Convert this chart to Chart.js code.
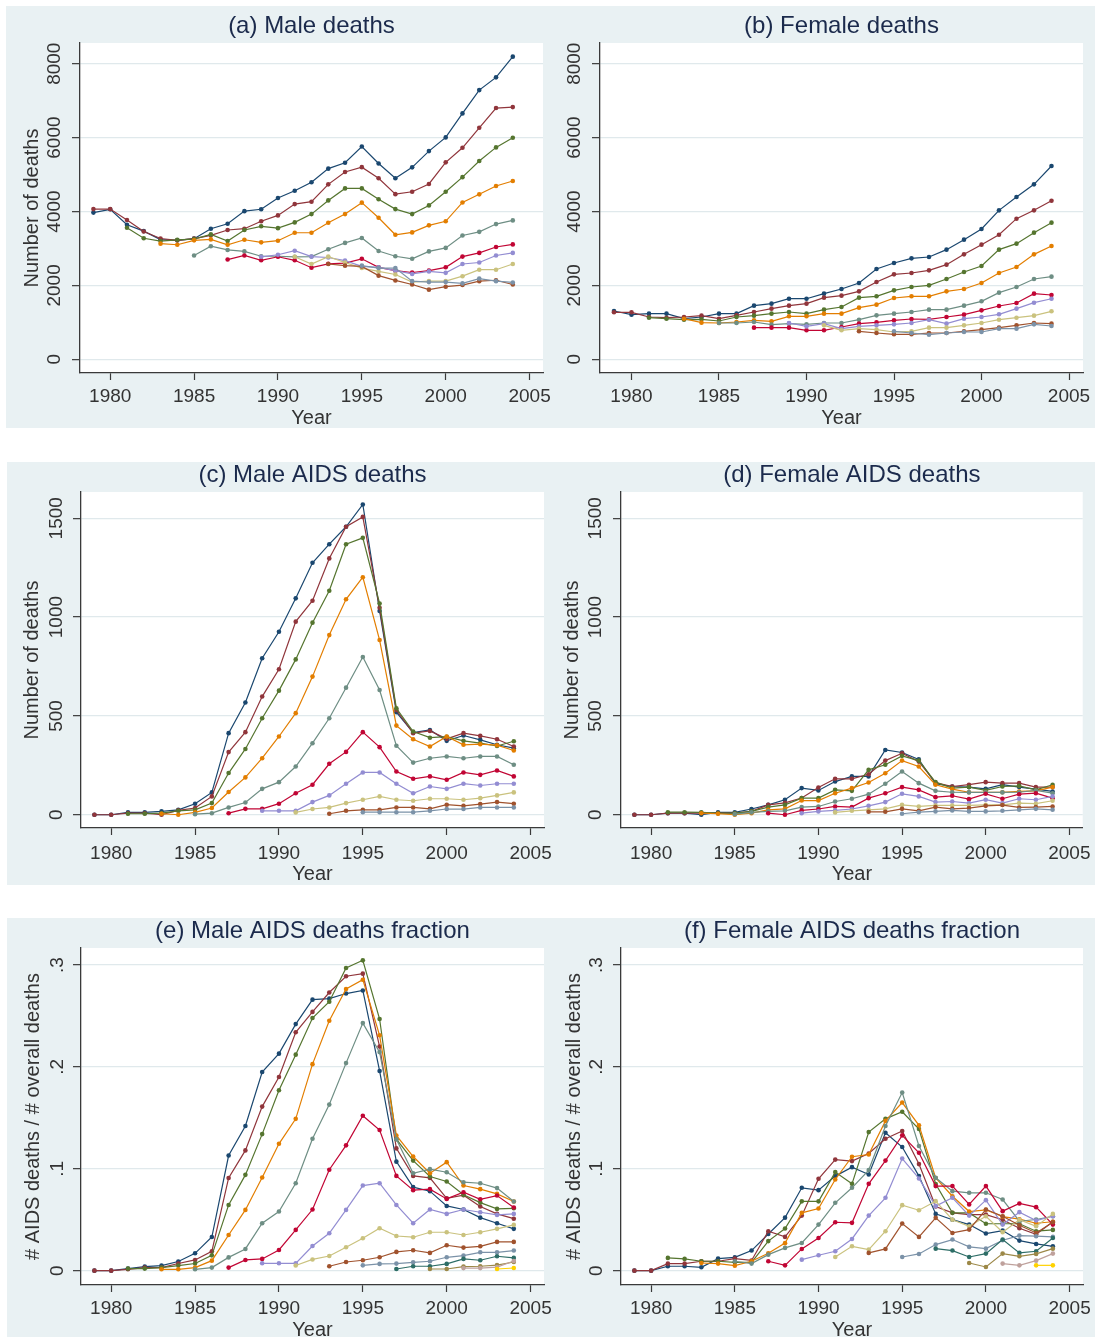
<!DOCTYPE html>
<html>
<head>
<meta charset="utf-8">
<script src="https://cdn.jsdelivr.net/npm/chart.js@4/dist/chart.umd.min.js"></script>
<style>
  html, body { margin: 0; padding: 0; background: #ffffff; width: 1098px; height: 1337px; overflow: hidden; position: relative; }
  .band { position: absolute; background: #e9f1f3; }
  canvas { position: absolute; }
</style>
</head>
<body>
<div class="band" style="left:6px; top:6px; width:1089px; height:422px;"></div>
<div class="band" style="left:7px; top:462px; width:1088px; height:423px;"></div>
<div class="band" style="left:7px; top:918px; width:1088px; height:419px;"></div>

<canvas id="pa" width="560" height="430" style="left:0px; top:6px;"></canvas>
<canvas id="pb" width="549" height="430" style="left:549px; top:6px;"></canvas>
<canvas id="pc" width="560" height="431" style="left:0px; top:462px;"></canvas>
<canvas id="pd" width="549" height="431" style="left:549px; top:462px;"></canvas>
<canvas id="pe" width="560" height="427" style="left:0px; top:918px;"></canvas>
<canvas id="pf" width="549" height="427" style="left:549px; top:918px;"></canvas>

<script>
// ---- data -------------------------------------------------------------
const years = [1979, 1980, 1981, 1982, 1983, 1984, 1985, 1986, 1987, 1988, 1989, 1990, 1991,
               1992, 1993, 1994, 1995, 1996, 1997, 1998, 1999, 2000, 2001, 2002, 2003, 2004];
const yearTicks = [1980, 1985, 1990, 1995, 2000, 2005];

// first year of each series (series values below start at that year)
const seriesStart = [1979, 1979, 1981, 1983, 1985, 1987, 1989, 1991, 1993, 1995, 1997, 1999, 2001, 2003];
const seriesColors = ['#1a476f', '#90353b', '#55752f', '#e37e00', '#6e8e84', '#c10534', '#938dd2',
                      '#cac27e', '#a0522d', '#7b92a8', '#2d6d66', '#9c8847', '#bfa19c', '#ffd200'];

const countTicks = [0, 2000, 4000, 6000, 8000];
const countTickLabels = ['0', '2000', '4000', '6000', '8000'];
const aidsTicks = [0, 500, 1000, 1500];
const aidsTickLabels = ['0', '500', '1000', '1500'];
const fracTicks = [0, 0.1, 0.2, 0.3];
const fracTickLabels = ['0', '.1', '.2', '.3'];

const maleDeaths = [
  [3970, 4060, 3640, 3470, 3240, 3220, 3265, 3535, 3670, 4010, 4060, 4365, 4560, 4790, 5160, 5320, 5760, 5300, 4900, 5195, 5635, 6005, 6655, 7285, 7630, 8190],
  [4065, 4065, 3770, 3460, 3270, 3220, 3265, 3355, 3500, 3535, 3735, 3895, 4200, 4265, 4735, 5070, 5200, 4900, 4470, 4535, 4745, 5330, 5725, 6265, 6800, 6825],
  [3560, 3275, 3200, 3235, 3255, 3380, 3200, 3500, 3600, 3550, 3705, 3930, 4300, 4625, 4625, 4330, 4065, 3930, 4165, 4535, 4930, 5365, 5735, 5995],
  [3130, 3100, 3220, 3245, 3100, 3235, 3165, 3210, 3425, 3425, 3695, 3930, 4240, 3830, 3370, 3435, 3625, 3735, 4245, 4465, 4690, 4825],
  [2810, 3060, 2960, 2920, 2790, 2790, 2775, 2780, 2980, 3150, 3285, 2930, 2790, 2720, 2920, 3015, 3350, 3450, 3660, 3760],
  [2700, 2810, 2680, 2775, 2680, 2480, 2585, 2605, 2720, 2490, 2400, 2350, 2400, 2490, 2780, 2880, 3040, 3110],
  [2775, 2830, 2940, 2780, 2755, 2670, 2515, 2490, 2400, 2310, 2380, 2340, 2580, 2620, 2810, 2880],
  [2775, 2580, 2780, 2620, 2470, 2380, 2295, 2090, 2115, 2115, 2250, 2425, 2425, 2580],
  [2580, 2535, 2515, 2265, 2135, 2025, 1885, 1965, 2010, 2115, 2140, 2025],
  [2535, 2470, 2470, 2115, 2090, 2090, 2055, 2185, 2115, 2080]
];

const femaleDeaths = [
  [1308, 1209, 1236, 1236, 1100, 1145, 1236, 1236, 1452, 1506, 1640, 1640, 1777, 1903, 2066, 2444, 2607, 2733, 2769, 2968, 3238, 3527, 4032, 4393, 4735, 5232],
  [1272, 1272, 1145, 1127, 1145, 1182, 1100, 1190, 1280, 1371, 1452, 1506, 1669, 1723, 1840, 2093, 2300, 2336, 2408, 2562, 2841, 3103, 3373, 3806, 4032, 4293],
  [1127, 1100, 1073, 1082, 1037, 1145, 1182, 1236, 1280, 1236, 1344, 1416, 1669, 1705, 1867, 1957, 2002, 2174, 2363, 2526, 2968, 3130, 3428, 3698],
  [1100, 992, 983, 1010, 1055, 1028, 1164, 1164, 1236, 1236, 1398, 1479, 1660, 1705, 1705, 1840, 1903, 2066, 2336, 2499, 2841, 3067],
  [983, 983, 1010, 938, 965, 947, 983, 983, 1073, 1190, 1236, 1280, 1344, 1344, 1452, 1570, 1804, 1957, 2174, 2237],
  [857, 857, 857, 785, 785, 875, 965, 1001, 1055, 1091, 1082, 1145, 1209, 1326, 1443, 1524, 1777, 1741],
  [983, 893, 965, 830, 893, 920, 947, 983, 1073, 965, 1100, 1145, 1218, 1371, 1533, 1640],
  [920, 785, 830, 803, 740, 758, 857, 857, 920, 983, 1073, 1127, 1182, 1299],
  [758, 713, 677, 677, 713, 713, 758, 803, 857, 920, 983, 965],
  [758, 713, 667, 713, 740, 740, 830, 830, 947, 902]
];

const maleAids = [
  [0, 0, 12, 12, 17, 25, 56, 113, 413, 568, 792, 926, 1095, 1275, 1369, 1457, 1570, 1031, 519, 416, 429, 374, 401, 379, 354, 337],
  [0, 0, 8, 8, 0, 22, 34, 93, 317, 418, 598, 736, 977, 1083, 1297, 1457, 1507, 1047, 530, 413, 424, 384, 413, 399, 382, 345],
  [5, 5, 8, 20, 25, 59, 211, 333, 488, 628, 786, 972, 1133, 1369, 1401, 1069, 539, 421, 390, 395, 374, 362, 348, 372],
  [5, 0, 12, 34, 115, 189, 286, 396, 514, 699, 909, 1090, 1202, 884, 451, 382, 345, 396, 354, 357, 352, 325],
  [3, 8, 37, 62, 131, 165, 244, 362, 488, 643, 798, 631, 349, 264, 286, 295, 286, 295, 295, 253],
  [8, 30, 30, 56, 109, 152, 258, 318, 418, 342, 219, 182, 194, 177, 214, 202, 224, 194],
  [20, 20, 20, 64, 98, 157, 214, 214, 157, 109, 143, 131, 157, 148, 157, 157],
  [12, 29, 37, 59, 76, 93, 76, 71, 81, 81, 76, 84, 98, 113],
  [5, 20, 25, 25, 37, 37, 30, 51, 45, 54, 64, 56],
  [13, 13, 13, 13, 20, 29, 29, 37, 37, 37]
];

const femaleAids = [
  [0, 0, 8, 8, 0, 12, 12, 29, 50, 76, 135, 123, 168, 194, 194, 328, 315, 280, 157, 143, 140, 131, 152, 140, 130, 118],
  [0, 0, 8, 8, 10, 8, 8, 17, 50, 60, 85, 138, 182, 182, 205, 274, 311, 269, 163, 143, 152, 165, 160, 160, 140, 140],
  [13, 13, 12, 8, 8, 17, 39, 50, 84, 84, 126, 121, 227, 253, 298, 274, 165, 135, 140, 123, 143, 146, 126, 152],
  [8, 5, 0, 8, 25, 30, 72, 72, 109, 135, 163, 210, 274, 244, 152, 130, 114, 114, 114, 118, 121, 140],
  [3, 12, 17, 20, 39, 42, 67, 81, 104, 157, 219, 160, 121, 114, 113, 113, 113, 114, 123, 109],
  [8, 0, 22, 29, 42, 39, 84, 109, 140, 126, 89, 96, 79, 106, 81, 104, 109, 84],
  [8, 17, 22, 29, 45, 64, 106, 93, 64, 67, 59, 76, 59, 81, 76, 93],
  [12, 20, 25, 30, 50, 42, 47, 47, 47, 50, 50, 59, 56, 71],
  [15, 15, 30, 20, 39, 30, 34, 45, 49, 37, 39, 42],
  [5, 13, 17, 22, 17, 17, 20, 25, 30, 25]
];

const maleFraction = [
  [0, 0, 0.002, 0.004, 0.005, 0.009, 0.017, 0.033, 0.113, 0.142, 0.195, 0.213, 0.242, 0.266, 0.267, 0.272, 0.275, 0.196, 0.107, 0.082, 0.078, 0.0635, 0.060, 0.052, 0.0465, 0.041],
  [0, 0, 0.0013, 0.003, 0.003, 0.007, 0.0105, 0.019, 0.091, 0.118, 0.161, 0.190, 0.234, 0.254, 0.273, 0.289, 0.2915, 0.220, 0.120, 0.093, 0.091, 0.071, 0.074, 0.063, 0.0557, 0.051],
  [0.002, 0.002, 0.003, 0.005, 0.007, 0.015, 0.0645, 0.094, 0.134, 0.177, 0.212, 0.248, 0.264, 0.297, 0.3046, 0.247, 0.129, 0.108, 0.0924, 0.0875, 0.0744, 0.0668, 0.0606, 0.0612],
  [0.0013, 0.0013, 0.003, 0.0098, 0.035, 0.0596, 0.0914, 0.1245, 0.149, 0.2027, 0.2453, 0.2764, 0.2856, 0.231, 0.1327, 0.112, 0.0956, 0.1065, 0.0835, 0.080, 0.0753, 0.0678],
  [0.0013, 0.003, 0.013, 0.0213, 0.0465, 0.058, 0.0858, 0.1294, 0.163, 0.2037, 0.243, 0.2145, 0.129, 0.0956, 0.0996, 0.0966, 0.0868, 0.0858, 0.081, 0.0678],
  [0.003, 0.0105, 0.0115, 0.0203, 0.040, 0.060, 0.099, 0.123, 0.152, 0.138, 0.093, 0.079, 0.080, 0.0704, 0.077, 0.070, 0.0737, 0.062],
  [0.0072, 0.0072, 0.0072, 0.0242, 0.0367, 0.0596, 0.0835, 0.0858, 0.0645, 0.0465, 0.060, 0.0557, 0.060, 0.0573, 0.0547, 0.0557],
  [0.005, 0.011, 0.0144, 0.023, 0.0318, 0.0416, 0.034, 0.0328, 0.0377, 0.0377, 0.035, 0.0377, 0.041, 0.0449],
  [0.0043, 0.0085, 0.0102, 0.0131, 0.0184, 0.020, 0.0174, 0.0249, 0.0226, 0.0239, 0.0282, 0.0282],
  [0.0052, 0.0066, 0.0069, 0.0082, 0.0092, 0.0131, 0.0148, 0.018, 0.018, 0.0197],
  [0.0016, 0.0043, 0.0043, 0.0066, 0.0115, 0.0102, 0.0141, 0.0125],
  [0.0016, 0.0016, 0.004, 0.0043, 0.0055, 0.0085],
  [0.0025, 0.0025, 0.0035, 0.0095],
  [0.0016, 0.0026]
];

const femaleFraction = [
  [0, 0, 0.0043, 0.0043, 0.0033, 0.0118, 0.013, 0.0197, 0.036, 0.052, 0.0813, 0.079, 0.0928, 0.1016, 0.0944, 0.1354, 0.1213, 0.0928, 0.0557, 0.050, 0.0452, 0.0364, 0.0393, 0.0295, 0.0262, 0.0239],
  [0, 0, 0.0069, 0.0069, 0.0092, 0.0092, 0.0118, 0.010, 0.0387, 0.0331, 0.054, 0.0902, 0.109, 0.1075, 0.115, 0.1295, 0.137, 0.1046, 0.063, 0.0567, 0.055, 0.055, 0.050, 0.0416, 0.0357, 0.048],
  [0.0125, 0.0115, 0.0092, 0.0092, 0.0082, 0.0082, 0.029, 0.0413, 0.068, 0.068, 0.0967, 0.0852, 0.136, 0.149, 0.156, 0.139, 0.085, 0.0567, 0.0567, 0.046, 0.046, 0.046, 0.0387, 0.040],
  [0.0075, 0.0069, 0.0049, 0.0092, 0.017, 0.027, 0.0567, 0.061, 0.0895, 0.1118, 0.114, 0.147, 0.165, 0.1426, 0.091, 0.073, 0.058, 0.0597, 0.053, 0.0505, 0.0465, 0.048],
  [0.0092, 0.0069, 0.0157, 0.0223, 0.0272, 0.0452, 0.0666, 0.0813, 0.0987, 0.142, 0.1748, 0.1223, 0.0911, 0.078, 0.0764, 0.0764, 0.0698, 0.0485, 0.0502, 0.0534],
  [0.0092, 0.0052, 0.0213, 0.0321, 0.0475, 0.0469, 0.0852, 0.108, 0.1328, 0.1157, 0.083, 0.083, 0.065, 0.083, 0.0584, 0.0659, 0.0623, 0.0452],
  [0.0108, 0.0151, 0.019, 0.0311, 0.054, 0.0715, 0.110, 0.0905, 0.0633, 0.0715, 0.054, 0.0692, 0.0452, 0.0574, 0.0492, 0.0534],
  [0.0134, 0.0239, 0.0207, 0.0387, 0.0643, 0.0593, 0.0682, 0.050, 0.0436, 0.0534, 0.0377, 0.050, 0.0436, 0.0557],
  [0.0174, 0.0213, 0.0462, 0.0331, 0.0518, 0.037, 0.0403, 0.060, 0.0534, 0.0446, 0.037, 0.0475],
  [0.0134, 0.0164, 0.0256, 0.0305, 0.0233, 0.0216, 0.0298, 0.0344, 0.0338, 0.0331],
  [0.0216, 0.0197, 0.0134, 0.0167, 0.0305, 0.0174, 0.019, 0.0321],
  [0.0075, 0.0036, 0.0167, 0.0141, 0.0164, 0.0216],
  [0.0069, 0.0052, 0.0098, 0.0167],
  [0.0052, 0.0052]
];

// ---- styling ------------------------------------------------------------
const FONT = '"Liberation Sans", Arial, sans-serif';
const TITLE_COLOR = '#1b2a4c';
const TEXT_COLOR = '#333333';
const AXIS_COLOR = '#3a3a3a';
const GRID_COLOR = '#e0e9ec';
const TICK_FONT_SIZE = 19;
const TITLE_FONT_SIZE = 24;
const Y_TICK_LEN = 8;

Chart.defaults.font.family = FONT;

// white plot region behind the series
const plotRegion = {
  id: 'plotRegion',
  beforeDraw(chart) {
    const { ctx, chartArea: a } = chart;
    ctx.save();
    ctx.fillStyle = '#ffffff';
    ctx.fillRect(a.left, a.top, a.right - a.left, a.bottom - a.top);
    ctx.restore();
  }
};

function buildDatasets(rows) {
  return rows.map((vals, i) => {
    const lead = seriesStart[i] - years[0];
    const data = years.map((yr, k) => (k < lead ? null : vals[k - lead]));
    return {
      data,
      borderColor: seriesColors[i],
      backgroundColor: seriesColors[i],
      borderWidth: 1.2,
      pointRadius: 2.3,
      pointBorderWidth: 0,
      pointHoverRadius: 2.3,
      tension: 0,
      spanGaps: false,
      order: rows.length - i   // later series drawn on top
    };
  });
}

function halfWidest(labels) {
  const c = document.createElement('canvas').getContext('2d');
  c.font = `${TICK_FONT_SIZE}px ${FONT}`;
  return Math.max(...labels.map(s => c.measureText(s).width)) / 2;
}

function drawPanel(id, p) {
  const labelPad = p.yW - Y_TICK_LEN - p.yLabelCenter - halfWidest(p.yLabels);
  new Chart(document.getElementById(id), {
    type: 'line',
    data: { labels: years, datasets: buildDatasets(p.rows) },
    options: {
      responsive: false,
      animation: false,
      events: [],
      layout: { padding: { left: 0, right: p.padRight, top: 0, bottom: 0 } },
      plugins: {
        legend: { display: false },
        tooltip: { enabled: false },
        title: {
          display: true,
          text: p.title,
          fullSize: false,
          color: TITLE_COLOR,
          font: { family: FONT, size: TITLE_FONT_SIZE, weight: 'normal' },
          padding: { top: p.titleTop, bottom: p.titleBottom }
        }
      },
      scales: {
        x: {
          type: 'linear',
          min: 1978.2,
          max: 2005.8,
          afterBuildTicks: ax => { ax.ticks = yearTicks.map(v => ({ value: v })); },
          afterFit: ax => { ax.height = p.xH; },
          grid: { drawOnChartArea: false, drawTicks: true, tickLength: 7, tickColor: AXIS_COLOR, tickWidth: 1.2 },
          border: { display: true, color: AXIS_COLOR, width: 1.3 },
          ticks: {
            autoSkip: false, minRotation: 0, maxRotation: 0, padding: p.xPad,
            color: TEXT_COLOR, font: { family: FONT, size: TICK_FONT_SIZE },
            callback: v => String(v)
          },
          title: {
            display: true, text: 'Year', color: TEXT_COLOR,
            font: { family: FONT, size: 20 },
            padding: { top: 0, bottom: p.xTitleBottom }
          }
        },
        y: {
          type: 'linear',
          min: p.yMin,
          max: p.yMax,
          afterBuildTicks: ax => { ax.ticks = p.yTicks.map(v => ({ value: v })); },
          afterFit: ax => { ax.width = p.yW; },
          grid: { color: GRID_COLOR, lineWidth: 1.3, drawTicks: true, tickLength: Y_TICK_LEN, tickColor: AXIS_COLOR, tickWidth: 1.2 },
          border: { display: true, color: AXIS_COLOR, width: 1.3 },
          ticks: {
            minRotation: 90, maxRotation: 90, crossAlign: 'center', padding: labelPad,
            color: TEXT_COLOR, font: { family: FONT, size: TICK_FONT_SIZE },
            callback: (v, i) => p.yLabels[i]
          },
          title: p.yTitle
            ? { display: true, text: p.yTitle, color: TEXT_COLOR, font: { family: FONT, size: 20 },
                padding: { top: p.yTitleTop, bottom: 0 } }
            : { display: false }
        }
      }
    },
    plugins: [plotRegion]
  });
}

const countAxis = { yMin: -370, yMax: 8560, yTicks: countTicks, yLabels: countTickLabels };
const aidsAxis  = { yMin: -67, yMax: 1633, yTicks: aidsTicks, yLabels: aidsTickLabels };
const fracAxis  = { yMin: -0.0141, yMax: 0.3167, yTicks: fracTicks, yLabels: fracTickLabels };

drawPanel('pa', Object.assign({}, countAxis, {
  title: '(a) Male deaths', rows: maleDeaths, yTitle: 'Number of deaths',
  padRight: 17, yW: 80, yLabelCenter: 55, yTitleTop: 20,
  titleTop: 5.6, titleBottom: 2.6, xH: 63, xPad: 5.6, xTitleBottom: 6
}));
drawPanel('pb', Object.assign({}, countAxis, {
  title: '(b) Female deaths', rows: femaleDeaths, yTitle: null,
  padRight: 15, yW: 51, yLabelCenter: 25.5,
  titleTop: 5.6, titleBottom: 2.6, xH: 63, xPad: 5.6, xTitleBottom: 6
}));
drawPanel('pc', Object.assign({}, aidsAxis, {
  title: '(c) Male AIDS deaths', rows: maleAids, yTitle: 'Number of deaths',
  padRight: 16, yW: 81, yLabelCenter: 57, yTitleTop: 20.4,
  titleTop: -1.2, titleBottom: 2.4, xH: 65, xPad: 7.1, xTitleBottom: 7
}));
drawPanel('pd', Object.assign({}, aidsAxis, {
  title: '(d) Female AIDS deaths', rows: femaleAids, yTitle: 'Number of deaths',
  padRight: 15, yW: 72, yLabelCenter: 46.4, yTitleTop: 11.6,
  titleTop: -1.2, titleBottom: 2.4, xH: 65, xPad: 7.1, xTitleBottom: 7
}));
drawPanel('pe', Object.assign({}, fracAxis, {
  title: '(e) Male AIDS deaths fraction', rows: maleFraction, yTitle: '# AIDS deaths / # overall deaths',
  padRight: 16, yW: 81, yLabelCenter: 57.8, yTitleTop: 21.6,
  titleTop: -0.6, titleBottom: 1.8, xH: 60, xPad: 5.6, xTitleBottom: 3
}));
drawPanel('pf', Object.assign({}, fracAxis, {
  title: '(f) Female AIDS deaths fraction', rows: femaleFraction, yTitle: '# AIDS deaths / # overall deaths',
  padRight: 15, yW: 72, yLabelCenter: 47.3, yTitleTop: 13.4,
  titleTop: -0.6, titleBottom: 1.8, xH: 60, xPad: 5.6, xTitleBottom: 3
}));
</script>
</body>
</html>
